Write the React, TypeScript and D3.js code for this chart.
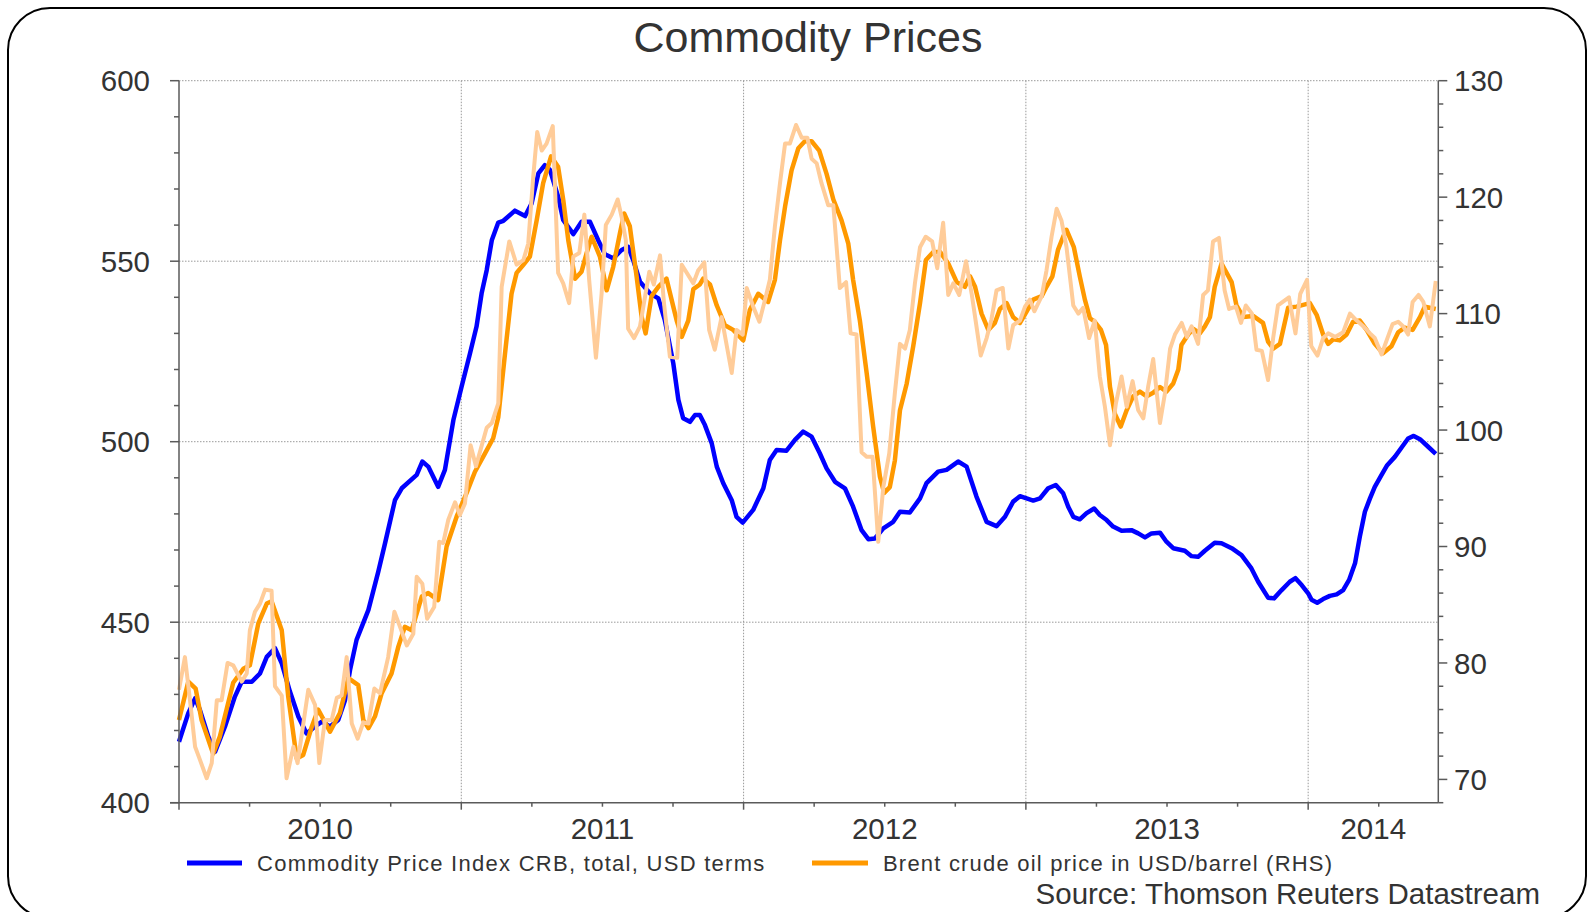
import React from "react";
import * as d3 from "d3";

// Time is expressed as years elapsed since START_YEAR (Jan 1 2010)
const START_YEAR = 2010;
const END_OFFSET = 4.461; // mid-June 2014

const leftMajor = [400, 450, 500, 550, 600];
const rightMajor = [70, 80, 90, 100, 110, 120, 130];
const yearLabels = ["2010", "2011", "2012", "2013", "2014"];
const legendCRB = "Commodity Price Index CRB, total, USD terms";
const legendBrent = "Brent crude oil price in USD/barrel (RHS)";
const sourceText = "Source: Thomson Reuters Datastream";
const titleText = "Commodity Prices";

// CRB commodity price index (left axis)
const crb: [number, number][] = [
  [0.000, 416.9], [0.033, 424.8], [0.057, 428.9], [0.074, 425.7], [0.104, 418.3], [0.128, 414.1],
  [0.163, 421.1], [0.198, 429.4], [0.222, 433.5], [0.258, 433.5], [0.287, 435.8], [0.311, 440.4],
  [0.340, 442.8], [0.364, 438.6], [0.393, 430.8], [0.423, 423.8], [0.452, 419.2], [0.482, 421.1],
  [0.505, 422.4], [0.535, 421.1], [0.564, 422.9], [0.588, 428.4], [0.606, 436.8], [0.629, 445.1],
  [0.671, 453.4], [0.706, 464.0], [0.730, 471.9], [0.765, 483.8], [0.789, 487.1], [0.842, 490.8],
  [0.862, 494.5], [0.883, 493.1], [0.918, 487.5], [0.942, 492.2], [0.972, 506.0], [1.001, 515.2],
  [1.031, 524.5], [1.054, 531.9], [1.072, 541.1], [1.090, 547.5], [1.108, 555.8], [1.131, 560.7],
  [1.149, 561.2], [1.190, 564.0], [1.226, 562.5], [1.249, 566.0], [1.273, 574.3], [1.296, 576.6],
  [1.314, 575.3], [1.343, 567.9], [1.361, 561.4], [1.397, 557.5], [1.426, 560.9], [1.456, 560.9],
  [1.485, 555.8], [1.509, 551.9], [1.538, 550.8], [1.568, 553.1], [1.591, 554.0], [1.609, 550.3],
  [1.633, 544.3], [1.668, 541.1], [1.698, 539.7], [1.721, 533.7], [1.751, 521.7], [1.769, 511.6],
  [1.786, 506.5], [1.810, 505.5], [1.828, 507.4], [1.845, 507.4], [1.863, 504.6], [1.887, 499.6],
  [1.905, 493.1], [1.928, 488.5], [1.958, 483.8], [1.975, 479.2], [1.997, 477.6], [2.034, 481.1],
  [2.070, 487.1], [2.093, 494.9], [2.117, 497.7], [2.152, 497.5], [2.182, 500.5], [2.211, 502.8],
  [2.241, 501.4], [2.270, 496.8], [2.294, 492.6], [2.324, 488.9], [2.359, 487.1], [2.388, 482.0],
  [2.418, 475.5], [2.442, 473.0], [2.465, 473.2], [2.495, 476.0], [2.530, 477.8], [2.554, 480.6],
  [2.589, 480.4], [2.625, 484.3], [2.648, 488.5], [2.689, 491.7], [2.719, 492.2], [2.760, 494.5],
  [2.790, 493.1], [2.825, 484.8], [2.861, 477.8], [2.896, 476.6], [2.926, 479.2], [2.955, 483.4],
  [2.979, 484.9], [3.026, 483.7], [3.050, 484.3], [3.079, 487.1], [3.106, 488.0], [3.132, 485.7],
  [3.150, 482.0], [3.168, 479.2], [3.191, 478.5], [3.215, 480.2], [3.242, 481.5], [3.262, 479.7],
  [3.286, 478.3], [3.309, 476.5], [3.339, 475.3], [3.374, 475.5], [3.398, 474.6], [3.422, 473.5],
  [3.445, 474.6], [3.475, 474.8], [3.498, 472.3], [3.522, 470.5], [3.563, 469.8], [3.587, 468.3],
  [3.610, 468.1], [3.634, 469.8], [3.669, 472.0], [3.693, 471.9], [3.729, 470.5], [3.764, 468.6],
  [3.799, 464.9], [3.823, 461.2], [3.858, 456.8], [3.879, 456.6], [3.906, 458.9], [3.935, 461.2],
  [3.955, 462.2], [3.977, 460.3], [4.000, 458.0], [4.012, 456.2], [4.032, 455.4], [4.053, 456.4],
  [4.077, 457.3], [4.101, 457.7], [4.124, 458.9], [4.145, 461.7], [4.166, 466.3], [4.183, 473.7],
  [4.201, 480.6], [4.219, 484.3], [4.236, 487.5], [4.260, 490.8], [4.280, 493.5], [4.307, 495.8],
  [4.331, 498.4], [4.354, 500.9], [4.374, 501.6], [4.396, 500.7], [4.425, 498.6], [4.452, 496.6],
];

// Brent, smoothed (right axis)
const brentAvg: [number, number][] = [
  [0.000, 75.1], [0.033, 78.4], [0.059, 77.8], [0.080, 75.1], [0.121, 72.2], [0.145, 73.7],
  [0.192, 78.3], [0.228, 79.5], [0.251, 79.8], [0.281, 83.4], [0.311, 85.1], [0.328, 85.3],
  [0.364, 82.8], [0.387, 77.1], [0.417, 71.8], [0.440, 72.1], [0.470, 74.5], [0.493, 76.0],
  [0.535, 74.1], [0.570, 75.7], [0.600, 78.7], [0.635, 78.1], [0.653, 75.1], [0.671, 74.4],
  [0.694, 75.4], [0.718, 77.4], [0.753, 79.1], [0.777, 81.4], [0.800, 83.1], [0.824, 82.8],
  [0.860, 85.7], [0.883, 86.0], [0.918, 85.4], [0.948, 90.0], [0.984, 92.6], [1.019, 94.6],
  [1.048, 96.4], [1.084, 98.0], [1.113, 99.3], [1.131, 101.1], [1.155, 106.6], [1.178, 111.7],
  [1.196, 113.5], [1.220, 114.2], [1.243, 114.9], [1.267, 118.0], [1.290, 121.2], [1.318, 123.5],
  [1.343, 122.6], [1.361, 119.8], [1.379, 116.3], [1.403, 113.0], [1.426, 113.6], [1.444, 115.2],
  [1.462, 116.6], [1.491, 114.9], [1.515, 112.0], [1.538, 114.0], [1.562, 116.9], [1.577, 118.6],
  [1.597, 117.5], [1.621, 113.2], [1.639, 109.7], [1.653, 108.3], [1.674, 111.5], [1.698, 112.3],
  [1.727, 113.0], [1.751, 110.6], [1.763, 109.4], [1.781, 108.0], [1.804, 109.4], [1.822, 112.1],
  [1.845, 112.5], [1.857, 113.0], [1.881, 112.5], [1.905, 110.7], [1.934, 109.0], [1.963, 108.6],
  [1.999, 107.7], [2.022, 110.3], [2.052, 111.7], [2.087, 111.0], [2.111, 112.9], [2.129, 116.3],
  [2.147, 119.2], [2.170, 122.3], [2.194, 124.2], [2.217, 124.8], [2.241, 124.8], [2.268, 124.0],
  [2.294, 122.0], [2.318, 119.8], [2.347, 118.0], [2.371, 116.0], [2.388, 112.9], [2.412, 109.4],
  [2.436, 104.9], [2.459, 100.3], [2.483, 96.0], [2.498, 94.6], [2.518, 95.1], [2.536, 97.4],
  [2.554, 101.7], [2.578, 104.0], [2.601, 107.2], [2.625, 110.9], [2.646, 114.6], [2.672, 115.3],
  [2.696, 115.3], [2.725, 114.3], [2.755, 112.7], [2.784, 112.3], [2.802, 113.2], [2.820, 112.3],
  [2.843, 110.0], [2.867, 108.6], [2.890, 109.2], [2.908, 110.4], [2.932, 110.9], [2.955, 109.7],
  [2.979, 109.2], [3.003, 110.2], [3.026, 111.2], [3.056, 111.5], [3.073, 112.3], [3.094, 113.2],
  [3.114, 115.5], [3.132, 116.6], [3.144, 117.2], [3.170, 115.7], [3.191, 113.2], [3.209, 111.2],
  [3.227, 109.6], [3.244, 109.3], [3.266, 108.6], [3.284, 107.3], [3.298, 103.7], [3.315, 101.4],
  [3.336, 100.3], [3.357, 101.7], [3.380, 102.9], [3.404, 103.3], [3.428, 102.9], [3.451, 103.2],
  [3.475, 103.7], [3.498, 103.3], [3.522, 104.0], [3.540, 105.2], [3.551, 107.3], [3.575, 108.2],
  [3.593, 108.7], [3.616, 108.3], [3.634, 108.9], [3.652, 109.7], [3.669, 112.3], [3.693, 114.3],
  [3.729, 112.7], [3.746, 110.7], [3.770, 109.7], [3.805, 109.8], [3.840, 109.2], [3.858, 107.6],
  [3.876, 107.0], [3.900, 107.4], [3.929, 110.5], [3.959, 110.6], [4.006, 110.9], [4.030, 109.9],
  [4.053, 108.2], [4.071, 107.4], [4.089, 107.8], [4.112, 107.7], [4.136, 108.2], [4.159, 109.3],
  [4.183, 109.4], [4.207, 108.6], [4.236, 107.4], [4.265, 106.6], [4.295, 107.2], [4.319, 108.4],
  [4.342, 108.8], [4.370, 108.6], [4.396, 109.7], [4.413, 110.6], [4.431, 110.5], [4.452, 110.4],
];

// Brent, weekly (right axis)
const brent: [number, number][] = [
  [0.000, 77.7], [0.021, 80.5], [0.039, 76.8], [0.057, 72.8], [0.074, 71.7], [0.098, 70.1],
  [0.116, 71.4], [0.134, 76.8], [0.151, 76.8], [0.172, 80.0], [0.192, 79.8], [0.222, 78.4],
  [0.240, 79.1], [0.251, 82.8], [0.269, 84.4], [0.287, 85.1], [0.305, 86.3], [0.328, 86.2],
  [0.340, 78.0], [0.364, 77.2], [0.381, 70.1], [0.405, 72.8], [0.420, 71.4], [0.458, 77.7],
  [0.482, 76.4], [0.497, 71.4], [0.517, 75.1], [0.541, 75.1], [0.559, 77.0], [0.576, 77.2],
  [0.594, 80.5], [0.612, 74.8], [0.633, 73.5], [0.653, 74.9], [0.671, 74.8], [0.692, 77.8],
  [0.712, 77.4], [0.741, 80.5], [0.763, 84.4], [0.783, 83.1], [0.807, 81.5], [0.830, 82.5],
  [0.842, 87.4], [0.862, 86.8], [0.879, 83.8], [0.904, 84.8], [0.922, 90.4], [0.936, 90.3],
  [0.954, 92.3], [0.978, 93.8], [0.995, 92.7], [1.013, 93.7], [1.033, 98.7], [1.052, 96.9],
  [1.090, 100.2], [1.108, 100.6], [1.131, 102.3], [1.143, 112.3], [1.170, 116.2], [1.196, 114.2],
  [1.220, 114.6], [1.237, 116.0], [1.255, 121.8], [1.269, 125.6], [1.285, 124.0], [1.302, 124.6],
  [1.324, 126.1], [1.343, 113.5], [1.361, 112.6], [1.382, 110.9], [1.397, 114.9], [1.418, 115.2],
  [1.436, 118.5], [1.453, 112.9], [1.477, 106.2], [1.497, 111.7], [1.512, 117.6], [1.533, 118.5],
  [1.554, 119.8], [1.568, 118.3], [1.583, 116.3], [1.591, 108.7], [1.612, 107.9], [1.633, 108.9],
  [1.666, 113.6], [1.682, 112.5], [1.704, 115.0], [1.718, 110.9], [1.739, 106.3], [1.765, 106.2],
  [1.781, 114.2], [1.822, 112.6], [1.839, 113.7], [1.861, 114.4], [1.878, 108.6], [1.898, 106.9],
  [1.922, 109.7], [1.958, 104.9], [1.975, 108.6], [1.997, 108.2], [2.011, 112.2], [2.034, 110.6],
  [2.056, 109.3], [2.076, 111.2], [2.093, 112.9], [2.111, 117.5], [2.129, 121.2], [2.147, 124.6],
  [2.164, 124.6], [2.186, 126.2], [2.206, 125.1], [2.226, 125.1], [2.241, 123.3], [2.259, 122.9],
  [2.276, 121.2], [2.300, 119.3], [2.318, 119.3], [2.341, 112.2], [2.363, 112.7], [2.379, 108.3],
  [2.400, 108.2], [2.418, 98.1], [2.436, 97.7], [2.457, 97.7], [2.477, 90.4], [2.495, 95.1],
  [2.516, 98.0], [2.536, 103.2], [2.554, 107.4], [2.572, 107.0], [2.589, 108.6], [2.607, 112.6],
  [2.625, 115.7], [2.645, 116.6], [2.668, 116.2], [2.686, 113.9], [2.707, 117.8], [2.725, 111.6],
  [2.743, 112.6], [2.764, 111.6], [2.788, 114.5], [2.808, 111.7], [2.825, 108.9], [2.840, 106.4],
  [2.861, 107.9], [2.878, 109.5], [2.896, 112.0], [2.918, 112.2], [2.938, 107.0], [2.955, 109.0],
  [2.979, 109.4], [2.997, 110.6], [3.014, 111.2], [3.030, 110.2], [3.056, 111.5], [3.073, 113.7],
  [3.091, 116.6], [3.109, 119.0], [3.126, 118.0], [3.144, 115.7], [3.168, 110.7], [3.186, 110.0],
  [3.203, 110.5], [3.224, 107.9], [3.244, 109.4], [3.262, 104.6], [3.280, 102.0], [3.298, 98.7],
  [3.319, 102.3], [3.339, 104.6], [3.357, 102.0], [3.378, 104.2], [3.398, 101.7], [3.416, 101.0],
  [3.433, 103.7], [3.451, 106.1], [3.475, 100.6], [3.493, 103.2], [3.511, 107.0], [3.528, 108.2],
  [3.552, 109.2], [3.570, 108.0], [3.587, 108.9], [3.610, 107.4], [3.628, 111.6], [3.645, 112.0],
  [3.663, 116.2], [3.684, 116.5], [3.704, 112.0], [3.720, 110.4], [3.744, 110.6], [3.762, 109.2],
  [3.779, 110.7], [3.801, 110.0], [3.817, 106.9], [3.836, 106.8], [3.858, 104.3], [3.876, 107.9],
  [3.893, 110.7], [3.932, 111.4], [3.955, 108.3], [3.972, 111.7], [3.996, 112.9], [4.011, 107.2],
  [4.033, 106.4], [4.053, 107.9], [4.071, 108.3], [4.095, 108.0], [4.124, 108.4], [4.148, 110.0],
  [4.172, 109.4], [4.196, 108.9], [4.219, 108.3], [4.236, 107.9], [4.260, 106.5], [4.278, 107.7],
  [4.299, 109.1], [4.319, 109.3], [4.337, 108.9], [4.354, 108.2], [4.370, 111.0], [4.391, 111.6],
  [4.408, 111.0], [4.431, 108.9], [4.452, 112.8],
];

const W = 1587;
const H = 912;
const PL = 179, PR = 1438.3, PT = 80.7, PB = 802.7;
const FONT = "'Liberation Sans', Arial, sans-serif";
const TEXT = "#333333";
const AXIS = "#5a5a5a";
const GRID = "#9a9a9a";
const BLUE = "#0000ff";
const ORANGE = "#ff9900";
const PEACH = "#ffcc99";

export default function App() {
  const x = d3.scaleLinear().domain([0, END_OFFSET]).range([PL, PR]);
  const yL = d3.scaleLinear().domain([400, 600]).range([PB, PT]);
  const yR = d3.scaleLinear().domain([68, 130]).range([PB, PT]);

  const lineL = d3.line<[number, number]>().x((d) => x(d[0])).y((d) => yL(d[1]));
  const lineR = d3.line<[number, number]>().x((d) => x(d[0])).y((d) => yR(d[1]));

  const leftMinor = d3.range(400, 601, 10);
  const rightMinor = d3.range(68, 131, 2);
  const quarters = d3.range(0, END_OFFSET, 0.25);
  const yearBounds = [1, 2, 3, 4];

  return (
    <svg width={W} height={H} style={{ position: "fixed", left: 0, top: 0, background: "#fff" }}>
      <rect x={8} y={8} width={1578} height={910} rx={42} ry={42} fill="#fff" stroke="#000" strokeWidth={2} />
      <text x={808} y={52} textAnchor="middle" fontFamily={FONT} fontSize={43} fill={TEXT}>
        {titleText}
      </text>

      {/* gridlines */}
      {leftMajor.filter((v) => v > 400).map((v) => (
        <line key={"gh" + v} x1={PL} x2={PR} y1={yL(v)} y2={yL(v)} stroke={GRID} strokeWidth={1} strokeDasharray="1.5,1.5" />
      ))}
      {yearBounds.map((t) => (
        <line key={"gv" + t} x1={x(t)} x2={x(t)} y1={PT} y2={PB} stroke={GRID} strokeWidth={1} strokeDasharray="1.5,1.5" />
      ))}

      {/* series */}
      <path d={lineL(crb) || ""} fill="none" stroke={BLUE} strokeWidth={4.5} strokeLinejoin="round" />
      <path d={lineR(brentAvg) || ""} fill="none" stroke={ORANGE} strokeWidth={4.5} strokeLinejoin="round" />
      <path d={lineR(brent) || ""} fill="none" stroke={PEACH} strokeWidth={4} strokeLinejoin="round" />

      {/* axes */}
      <line x1={PL} x2={PL} y1={PT} y2={PB} stroke={AXIS} strokeWidth={1.5} />
      <line x1={PR} x2={PR} y1={PT} y2={PB} stroke={AXIS} strokeWidth={1.5} />
      <line x1={PL - 9} x2={PR} y1={PB} y2={PB} stroke={AXIS} strokeWidth={1.5} />
      {leftMinor.map((v) => (
        <line key={"lt" + v} x1={PL - (v % 50 === 0 ? 9 : 5)} x2={PL} y1={yL(v)} y2={yL(v)} stroke={AXIS} strokeWidth={1.5} />
      ))}
      {rightMinor.map((v) => (
        <line key={"rt" + v} x1={PR} x2={PR + (v % 10 === 0 ? 9 : 5)} y1={yR(v)} y2={yR(v)} stroke={AXIS} strokeWidth={1.5} />
      ))}
      {quarters.map((t) => (
        <line key={"bt" + t} x1={x(t)} x2={x(t)} y1={PB} y2={PB + (Math.abs(t - Math.round(t)) < 1e-6 ? 7 : 4)} stroke={AXIS} strokeWidth={1.5} />
      ))}

      {/* tick labels */}
      {leftMajor.map((v) => (
        <text key={"ll" + v} x={150} y={yL(v)} dy="0.36em" textAnchor="end" fontFamily={FONT} fontSize={29.5} fill={TEXT}>
          {v}
        </text>
      ))}
      {rightMajor.map((v) => (
        <text key={"rl" + v} x={1454} y={yR(v)} dy="0.36em" textAnchor="start" fontFamily={FONT} fontSize={29.5} fill={TEXT}>
          {v}
        </text>
      ))}
      {yearLabels.map((lab, i) => {
        const a = i;
        const b = Math.min(i + 1, END_OFFSET);
        return (
          <text key={"yl" + lab} x={x((a + b) / 2)} y={828} dy="0.36em" textAnchor="middle" fontFamily={FONT} fontSize={29.5} fill={TEXT}>
            {lab}
          </text>
        );
      })}

      {/* legend */}
      <line x1={187} x2={242} y1={863} y2={863} stroke={BLUE} strokeWidth={5} />
      <text x={257} y={863} dy="0.36em" fontFamily={FONT} fontSize={22} fill={TEXT} letterSpacing={1.28}>
        {legendCRB}
      </text>
      <line x1={812} x2={868} y1={863} y2={863} stroke={ORANGE} strokeWidth={5} />
      <text x={883} y={863} dy="0.36em" fontFamily={FONT} fontSize={22} fill={TEXT} letterSpacing={1.2}>
        {legendBrent}
      </text>
      <text x={1540} y={893} dy="0.36em" textAnchor="end" fontFamily={FONT} fontSize={29.5} fill={TEXT}>
        {sourceText}
      </text>
    </svg>
  );
}
